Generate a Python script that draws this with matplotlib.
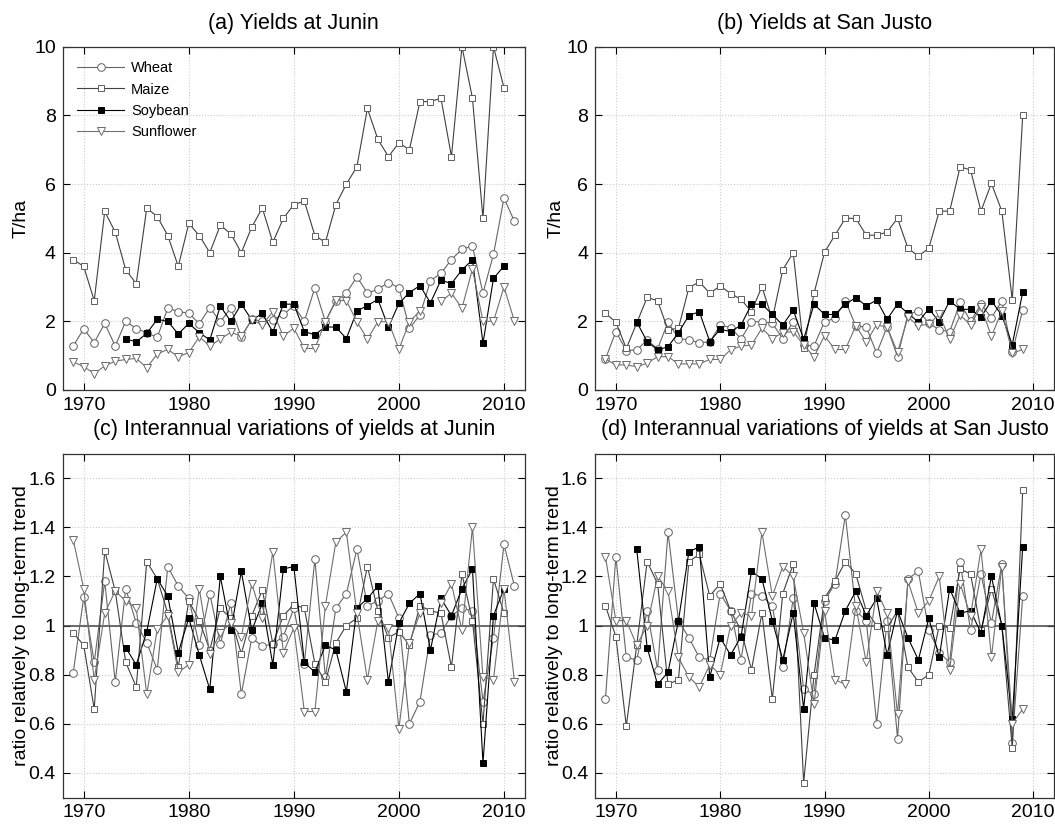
import numpy as np
import matplotlib
matplotlib.use("Agg")
import matplotlib.pyplot as plt

plt.rcParams['font.family'] = ['Liberation Sans', 'DejaVu Sans']

nan = np.nan
years_j = list(range(1969, 2012))   # Junin 1969-2011
years_s = list(range(1969, 2010))   # San Justo 1969-2009

# (a) Yields at Junin (T/ha)
junin_wheat = [1.28, 1.78, 1.38, 1.94, 1.28, 2.0, 1.79, 1.67, 1.53, 2.39, 2.28,
               2.24, 1.93, 2.4, 1.99, 2.39, 1.55, 2.06, 2.0, 2.04, 2.2,
               2.45, 2.0, 2.98, 1.99, 2.59, 2.82, 3.3, 2.82, 2.94, 3.13,
               2.98, 1.80, 2.18, 3.18, 3.4, 3.8, 4.1, 4.19, 2.82, 3.95, 5.59, 4.91]
junin_maize = [3.8, 3.6, 2.6, 5.2, 4.6, 3.5, 3.1, 5.3, 5.05, 4.5, 3.6,
               4.85, 4.5, 4.0, 4.8, 4.55, 4.0, 4.75, 5.3, 4.3, 5.0,
               5.4, 5.5, 4.5, 4.3, 5.4, 6.0, 6.5, 8.2, 7.3, 6.8,
               7.2, 7.0, 8.4, 8.4, 8.5, 6.8, 10.0, 8.5, 5.0, 10.0, 8.8, nan]
junin_soy = [nan, nan, nan, nan, nan, 1.49, 1.40, 1.65, 2.06, 2.0, 1.63,
             1.94, 1.67, 1.46, 2.44, 2.0, 2.5, 2.04, 2.23, 1.69, 2.5,
             2.5, 1.7, 1.61, 1.84, 1.83, 1.5, 2.3, 2.46, 2.64, 1.83,
             2.52, 2.84, 3.04, 2.54, 3.2, 3.1, 3.5, 3.79, 1.36, 3.25, 3.61, nan]
junin_sun = [0.82, 0.68, 0.48, 0.7, 0.84, 0.89, 0.92, 0.65, 1.05, 1.18, 0.97,
             1.09, 1.55, 1.28, 1.48, 1.68, 1.57, 2.04, 1.9, 2.28, 1.57,
             1.8, 1.21, 1.21, 1.99, 2.62, 2.6, 1.99, 1.48, 1.99, 1.99,
             1.19, 1.99, 2.3, nan, 2.58, 2.82, 2.38, 3.53, 2.0, 2.0, 3.0, 2.0]

# (b) Yields at San Justo (T/ha)
sj_wheat = [0.9, 1.7, 1.15, 1.17, 1.45, 1.2, 1.98, 1.5, 1.46, 1.38, 1.4,
            1.89, 1.82, 1.49, 1.99, 1.99, 1.94, 1.5, 1.99, 1.3, 1.29,
            1.99, 2.09, 2.6, 1.86, 1.84, 1.07, 1.84, 0.97, 2.2, 2.31,
            1.95, 1.75, 1.7, 2.55, 2.0, 2.5, 2.1, 2.6, 1.1, 2.33]
sj_maize = [2.23, 1.98, 1.21, 1.95, 2.7, 2.6, 1.75, 1.8, 2.98, 3.15, 2.82,
            3.03, 2.81, 2.64, 2.28, 3.01, 2.06, 3.5, 4.0, 1.21, 2.82,
            4.01, 4.51, 5.0, 5.0, 4.51, 4.51, 4.6, 5.0, 4.13, 3.9,
            4.13, 5.21, 5.21, 6.5, 6.41, 5.21, 6.02, 5.21, 2.62, 8.0]
sj_soy = [nan, nan, nan, 1.98, 1.41, 1.17, 1.26, 1.67, 2.17, 2.28, 1.41,
          1.77, 1.7, 1.89, 2.5, 2.5, 2.2, 1.89, 2.33, 1.48, 2.5,
          2.2, 2.2, 2.5, 2.69, 2.45, 2.62, 2.06, 2.5, 2.23, 1.98,
          2.37, 1.98, 2.6, 2.35, 2.35, 2.12, 2.6, 2.17, 1.32, 2.85]
sj_sun = [0.9, 0.73, 0.73, 0.68, 0.78, 0.97, 0.97, 0.76, 0.76, 0.76, 0.89,
          0.89, 1.17, 1.28, 1.31, 1.8, 1.5, 1.67, 1.7, 1.31, 0.97,
          1.58, 1.18, 1.18, 1.87, 1.4, 1.9, 1.83, 1.1, 2.12, 1.87,
          1.92, 2.2, 1.48, 2.18, 1.9, 2.43, 1.56, 2.3, 1.07, 1.18]

# (c) Ratios at Junin
rj_wheat = [0.806, 1.115, 0.85, 1.18, 0.77, 1.15, 1.01, 0.93, 0.82, 1.24, 1.16,
            1.11, 0.92, 1.13, 0.925, 1.09, 0.72, 0.95, 0.915, 0.925, 0.955,
            1.07, 0.845, 1.27, 0.79, 1.07, 1.13, 1.31, 1.08, 1.10, 1.13,
            1.03, 0.6, 0.69, 0.96, 0.97, 1.04, 1.07, 1.06, 0.69, 0.95, 1.33, 1.16]
rj_maize = [0.97, 0.92, 0.66, 1.305, 1.14, 0.85, 0.75, 1.26, 1.19, 1.05, 0.83,
            1.10, 1.02, 0.90, 1.07, 1.03, 0.885, 1.04, 1.145, 0.925, 1.04,
            1.085, 1.07, 0.845, 0.77, 0.93, 1.0, 1.03, 1.24, 1.06, 0.95,
            0.975, 0.92, 1.08, 1.06, 1.05, 0.83, 1.21, 1.02, 0.6, 1.19, 1.05, nan]
rj_soy = [nan, nan, nan, nan, nan, 0.91, 0.84, 0.975, 1.19, 1.12, 0.89,
          1.03, 0.88, 0.74, 1.2, 0.98, 1.22, 0.98, 1.09, 0.84, 1.23,
          1.24, 0.85, 0.81, 0.92, 0.9, 0.73, 1.07, 1.11, 1.16, 0.77,
          1.01, 1.09, 1.13, 0.9, 1.11, 1.04, 1.15, 1.23, 0.44, 1.04, 1.15, nan]
rj_sun = [1.35, 1.15, 0.78, 1.05, 1.14, 1.1, 1.07, 0.72, 0.985, 1.04, 0.81,
          0.84, 1.15, 0.885, 0.97, 1.01, 0.955, 1.17, 1.03, 1.3, 0.89,
          0.99, 0.65, 0.65, 1.08, 1.34, 1.38, 1.05, 0.78, 1.02, 0.99,
          0.58, 0.93, 1.05, nan, 1.09, 1.17, 0.98, 1.4, 0.79, 0.78, 1.15, 0.77]

# (d) Ratios at San Justo
rs_wheat = [0.70, 1.28, 0.87, 0.86, 1.06, 0.82, 1.38, 1.02, 0.95, 0.87, 0.86,
            1.13, 1.06, 0.86, 1.13, 1.12, 1.08, 0.83, 1.11, 0.74, 0.72,
            1.10, 1.17, 1.45, 1.06, 1.02, 0.60, 1.02, 0.54, 1.19, 1.22,
            0.98, 0.89, 0.85, 1.26, 0.98, 1.21, 1.01, 1.25, 0.52, 1.12]
rs_maize = [1.08, 0.955, 0.59, 0.92, 1.26, 1.17, 0.76, 0.78, 1.26, 1.29, 1.12,
            1.17, 1.06, 0.98, 0.82, 1.05, 0.70, 1.13, 1.25, 0.36, 0.8,
            1.11, 1.18, 1.26, 1.21, 1.06, 1.0, 0.99, 1.06, 0.83, 0.77,
            0.8, 1.0, 0.99, 1.23, 1.21, 0.98, 1.15, 1.0, 0.5, 1.55]
rs_soy = [nan, nan, nan, 1.31, 0.91, 0.76, 0.81, 1.02, 1.3, 1.32, 0.79,
          0.95, 0.88, 0.955, 1.22, 1.19, 1.02, 0.86, 1.05, 0.66, 1.09,
          0.95, 0.94, 1.06, 1.14, 1.04, 1.11, 0.88, 1.06, 0.95, 0.86,
          1.03, 0.87, 1.15, 1.05, 1.06, 0.97, 1.2, 1.0, 0.62, 1.32]
rs_sun = [1.28, 1.02, 1.02, 0.92, 1.0, 1.2, 1.14, 0.87, 0.79, 0.75, 0.84,
          0.8, 1.0, 1.05, 1.04, 1.38, 1.12, 1.24, 1.2, 0.97, 0.68,
          1.06, 0.78, 0.76, 1.08, 0.85, 1.14, 1.05, 0.64, 1.18, 1.05,
          1.1, 1.2, 0.82, 1.17, 1.04, 1.31, 0.87, 1.24, 0.6, 0.66]

labels = ["Wheat", "Maize", "Soybean", "Sunflower"]
styles = [
    dict(color='#666666', marker='o', mfc='white', mec='#606060', ms=5.5),
    dict(color='#404040', marker='s', mfc='white', mec='#606060', ms=4.5),
    dict(color='black', marker='s', mfc='black', mec='black', ms=4.5),
    dict(color='#707070', marker='v', mfc='white', mec='#6a6a6a', ms=6),
]

fig = plt.figure(figsize=(10.55, 8.24), dpi=100)
W, H = 1055.0, 824.0
def rect(l, t, r, b):
    return [l / W, 1 - b / H, (r - l) / W, (b - t) / H]

ax_a = fig.add_axes(rect(62.7, 46.7, 525, 390))
ax_b = fig.add_axes(rect(595, 46.7, 1054, 390))
ax_c = fig.add_axes(rect(62.7, 453.5, 525, 797.5))
ax_d = fig.add_axes(rect(595, 453.5, 1054, 797.5))

panels = [
    (ax_a, years_j, [junin_wheat, junin_maize, junin_soy, junin_sun], "(a) Yields at Junin"),
    (ax_b, years_s, [sj_wheat, sj_maize, sj_soy, sj_sun], "(b) Yields at San Justo"),
    (ax_c, years_j, [rj_wheat, rj_maize, rj_soy, rj_sun], "(c) Interannual variations of yields at Junin"),
    (ax_d, years_s, [rs_wheat, rs_maize, rs_soy, rs_sun], "(d) Interannual variations of yields at San Justo"),
]

for i, (ax, yrs, series, title) in enumerate(panels):
    if i >= 2:
        ax.axhline(1.0, color='#444444', lw=1.1, zorder=1.8)
    for s, lab, st in zip(series, labels, styles):
        ax.plot(yrs, s, lw=0.8, label=lab, mew=0.7, **st)
    ax.set_xlim(1968, 2012)
    ax.set_xticks([1970, 1980, 1990, 2000, 2010])
    if i < 2:
        ax.set_ylim(0, 10)
        ax.set_yticks([0, 2, 4, 6, 8, 10])
        ax.set_ylabel("T/ha", fontsize=14)
    else:
        ax.set_ylim(0.3, 1.7)
        ax.set_yticks([0.4, 0.6, 0.8, 1.0, 1.2, 1.4, 1.6])
        ax.set_yticklabels(['0.4', '0.6', '0.8', '1', '1.2', '1.4', '1.6'])
        ax.set_ylabel("ratio relatively to long-term trend", fontsize=14)
    ax.set_title(title, fontsize=15.5, pad=13)
    ax.grid(True, color='#cccccc', linestyle=':', linewidth=0.8)
    ax.tick_params(direction='in', top=True, right=True, labelsize=14, length=5, width=0.8,
                   pad=5)
    for sp in ax.spines.values():
        sp.set_color('#333333')
        sp.set_linewidth(0.9)

ax_a.yaxis.set_label_coords(-0.071, 0.5)
ax_b.yaxis.set_label_coords(-0.066, 0.5)
ax_c.yaxis.set_label_coords(-0.071, 0.5)
ax_d.yaxis.set_label_coords(-0.070, 0.5)

ax_a.legend(loc='upper left', frameon=False, fontsize=10.5, handlelength=3.2,
            handletextpad=0.5, labelspacing=0.5, borderaxespad=0.6)

fig.savefig("out.png", dpi=100)
